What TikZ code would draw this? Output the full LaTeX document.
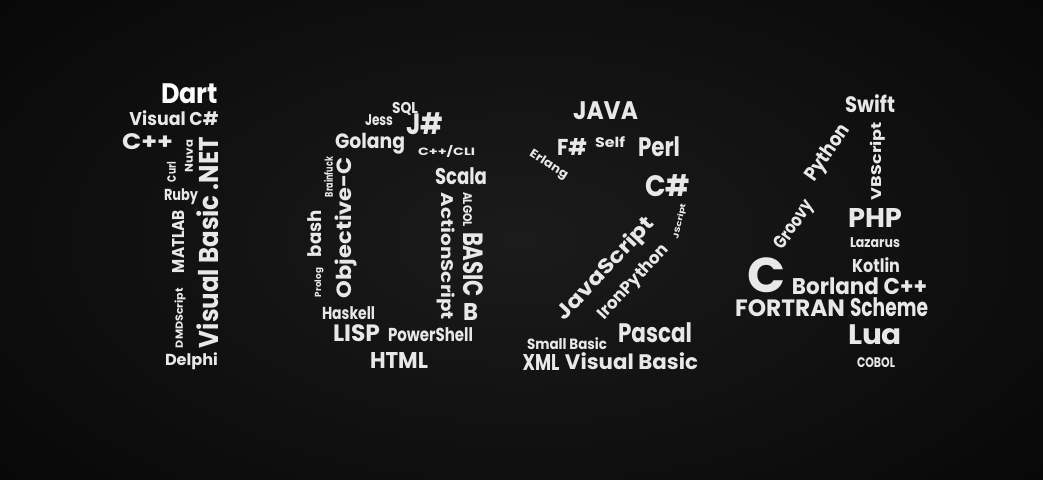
\documentclass[tikz,border=0pt]{standalone}
\usepackage{fontspec}
\setmainfont{Poppins}
\usepackage{graphicx}
\definecolor{fg}{HTML}{E8E8E8}
\definecolor{bgin}{HTML}{1B1B1B}
\definecolor{bgout}{HTML}{070707}
\newcommand\langw[3]{\resizebox*{#1pt}{#2pt}{\bfseries #3}}
\tikzset{lang/.style={inner sep=0pt, outer sep=0pt, text=fg}}
\begin{document}
\begin{tikzpicture}[x=1pt,y=-1pt]
\useasboundingbox (0,0) rectangle (1043,479);
\shade[inner color=bgin, outer color=bgout] (-200,-150) rectangle (1243,629);
% digit 1
\node[lang, text=white] (dart) at (189.5,94) {\langw{57}{20}{Dart}};
\node[lang] (vcs) at (174,118.5) {\langw{89}{15}{Visual C\#}};
\node[lang] (cpp) at (147.5,142) {\langw{51}{16}{C++}};
\node[lang, rotate=90] (nuva) at (189,156) {\langw{32}{8}{Nuva}};
\node[lang, rotate=90] (curl) at (171.5,172) {\langw{20}{9}{Curl}};
\node[lang] (ruby) at (181,197) {\langw{34}{16}{Ruby}};
\node[lang, rotate=90] (vbnet) at (208,242.5) {\langw{211}{22}{Visual Basic .NET}};
\node[lang, rotate=90] (matlab) at (178,241.5) {\langw{63}{12}{MATLAB}};
\node[lang, rotate=90] (dmd) at (180,318) {\langw{60}{11}{DMDScript}};
\node[lang] (delphi) at (191.5,361.5) {\langw{53}{17}{Delphi}};
% digit 0
\node[lang] (sql) at (405,108.5) {\langw{26}{13}{SQL}};
\node[lang] (jess) at (379,120.5) {\langw{28}{11}{Jess}};
\node[lang] (jsharp) at (424.5,124) {\langw{37}{22}{J\#}};
\node[lang] (golang) at (370,143.5) {\langw{70}{21}{Golang}};
\node[lang] (cppcli) at (446.5,151) {\langw{57}{12}{C++/CLI}};
\node[lang, rotate=90] (brainfuck) at (328.5,177) {\langw{40}{9}{Brainfuck}};
\node[lang] (scala) at (461,176.5) {\langw{52}{17}{Scala}};
\node[lang, rotate=90] (objc) at (346,227.5) {\langw{141}{22}{Objective-C}};
\node[lang, rotate=90] (bash) at (315,233.5) {\langw{47}{14}{bash}};
\node[lang, rotate=90] (prolog) at (319,282.5) {\langw{29}{9}{Prolog}};
\node[lang, rotate=-90] (actionscript) at (446,256.5) {\langw{127}{18}{ActionScript}};
\node[lang, rotate=-90] (algol) at (467.5,209.5) {\langw{35}{9}{ALGOL}};
\node[lang, rotate=-90] (basic) at (473,264.5) {\langw{65}{20}{BASIC}};
\node[lang] (b) at (470.5,311.5) {\langw{15}{17}{B}};
\node[lang] (haskell) at (348.5,313.5) {\langw{53}{13}{Haskell}};
\node[lang] (lisp) at (356.5,333.5) {\langw{47}{17}{LISP}};
\node[lang] (powershell) at (430.5,335) {\langw{85}{14}{PowerShell}};
\node[lang] (html) at (399,360) {\langw{58}{16}{HTML}};
% digit 2
\node[lang] (java) at (605.5,111) {\langw{65}{18}{JAVA}};
\node[lang] (fsharp) at (572,146.5) {\langw{30}{17}{F\#}};
\node[lang] (self) at (610,142.5) {\langw{30}{11}{Self}};
\node[lang] (perl) at (659,147) {\langw{42}{20}{Perl}};
\node[lang, rotate=-32] (erlang) at (548.5,165) {\langw{43}{12}{Erlang}};
\node[lang] (csharp) at (667.5,186) {\langw{45}{22}{C\#}};
\node[lang, rotate=78] (jscript) at (680,221.5) {\langw{36}{8}{JScript}};
\node[lang, rotate=47] (javascript) at (606,269) {\langw{133}{22}{JavaScript}};
\node[lang, rotate=47] (ironpython) at (634,282.5) {\langw{96}{17}{IronPython}};
\node[lang] (pascal) at (655,333) {\langw{74}{20}{Pascal}};
\node[lang] (smallbasic) at (567,344) {\langw{80}{12}{Small Basic}};
\node[lang] (xml) at (541,362) {\langw{37}{16}{XML}};
\node[lang] (visualbasic) at (631.5,361.5) {\langw{133}{17}{Visual Basic}};
% digit 4
\node[lang] (swift) at (870,104) {\langw{50}{18}{Swift}};
\node[lang, rotate=55] (python) at (828.5,153.5) {\langw{64}{20}{Python}};
\node[lang, rotate=55] (groovy) at (795,225.5) {\langw{55}{18}{Groovy}};
\node[lang, rotate=90] (vbscript) at (877.5,161) {\langw{78}{15}{VBScript}};
\node[lang] (php) at (875,217.5) {\langw{54}{19}{PHP}};
\node[lang] (lazarus) at (875,242.5) {\langw{50}{10}{Lazarus}};
\node[lang] (bigc) at (766,275.5) {\langw{38}{35}{C}};
\node[lang] (kotlin) at (876,265.5) {\langw{48}{15}{Kotlin}};
\node[lang] (borland) at (859.5,286.5) {\langw{135}{17}{Borland C++}};
\node[lang] (fortran) at (790,308.5) {\langw{110}{17}{FORTRAN}};
\node[lang] (scheme) at (889,307.5) {\langw{78}{19}{Scheme}};
\node[lang] (lua) at (875,335) {\langw{54}{20}{Lua}};
\node[lang] (cobol) at (876,363) {\langw{38}{10}{COBOL}};
\end{tikzpicture}
\end{document}
